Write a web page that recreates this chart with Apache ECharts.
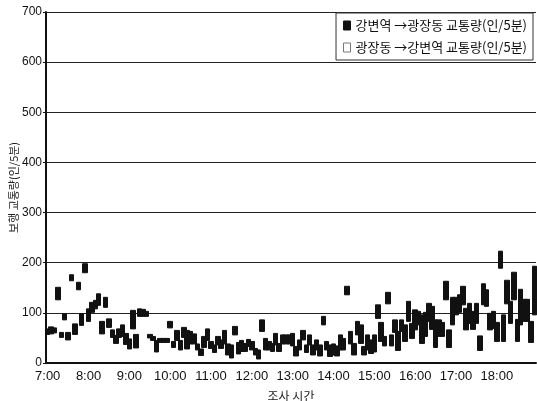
<!DOCTYPE html>
<html><head><meta charset="utf-8">
<script src="https://cdn.jsdelivr.net/npm/echarts@6/dist/echarts.min.js"></script>
<style>html,body{margin:0;padding:0;background:#fff}#c{width:537px;height:401px}</style>
</head><body><div id="c"></div>
<script>
// 5-minute slots from 7:00 to 18:55
const times = [];
for (let h = 7; h <= 18; h++) for (let m = 0; m < 60; m += 5) times.push(h + ':' + (m < 10 ? '0' : '') + m);

// 강변역→광장동 (upper edge of each bar)
const gangToGwang = [68,72,70,151,61,98,61,176,78,161,98,198,108,121,125,138,83,131,88,66,
55,68,76,59,48,105,57,108,107,103,57,53,45,49,49,49,83,43,65,45,
71,65,63,58,38,28,53,68,43,36,53,46,65,38,36,73,41,45,39,47,
43,29,26,86,49,43,39,59,39,56,56,56,59,33,46,65,36,56,36,46,
36,93,43,36,38,34,56,49,153,63,39,83,76,33,56,46,56,116,81,53,
141,56,86,63,86,76,123,79,106,103,96,101,119,113,86,86,81,163,66,131,
131,136,153,109,119,103,119,54,158,146,99,103,81,223,96,165,123,181,87,147,
127,127,83,193];
// 광장동→강변역 (lower edge of each bar)
const gwangToGang = [57,58,60,126,51,86,46,164,57,146,75,180,83,101,108,115,58,111,71,51,
39,51,53,37,28,68,30,93,93,93,50,45,22,41,41,41,70,31,45,26,
51,28,38,38,26,15,31,45,29,21,36,29,38,16,10,56,18,23,23,33,
26,16,8,63,26,26,23,36,23,38,38,38,34,14,26,46,21,36,16,26,
14,76,26,13,16,14,26,26,136,38,16,56,39,16,26,19,22,89,43,34,
118,34,61,25,63,43,83,49,66,76,39,53,83,67,31,53,53,126,31,76,
96,101,116,66,79,67,79,25,116,113,66,69,43,189,43,118,79,126,43,76,
83,83,41,96];

const yTicks = [0,100,200,300,400,500,600,700];
const hourLabels = ['7:00','8:00','9:00','10:00','11:00','12:00','13:00','14:00','15:00','16:00','17:00','18:00'];

const nameA = '강변역 →광장동 교통량(인/5분)';
const nameB = '광장동 →강변역 교통량(인/5분)';

const candle = times.map((t, i) => {
  const a = gangToGwang[i], b = gwangToGang[i];
  return [b, a, Math.min(a, b), Math.max(a, b)];
});

const chart = echarts.init(document.getElementById('c'), null, {renderer: 'canvas'});
const font = 'Liberation Sans, Arial, sans-serif';
const kfont = 'Noto Sans CJK KR, sans-serif';
chart.setOption({
  animation: false,
  backgroundColor: '#fff',
  textStyle: {fontFamily: font},
  grid: {left: 46, right: 1, top: 12, bottom: 38, containLabel: false, outerBoundsMode: 'none'},
  legend: {
    orient: 'vertical', right: 4, top: 13,
    itemWidth: 7, itemHeight: 9, itemGap: 9,
    padding: [6, 6, 6, 7],
    borderColor: '#333', borderWidth: 1, backgroundColor: '#fff',
    textStyle: {fontSize: 13, color: '#111', fontFamily: kfont},
    data: [
      {name: nameA, icon: 'rect', itemStyle: {color: '#111', borderColor: '#111', borderWidth: 1}},
      {name: nameB, icon: 'rect', itemStyle: {color: '#fff', borderColor: '#777', borderWidth: 1}}
    ]
  },
  xAxis: {
    type: 'category', data: times, boundaryGap: true,
    name: '조사 시간', nameLocation: 'middle', nameGap: 27, nameMoveOverlap: false,
    nameTextStyle: {fontSize: 12, color: '#222', fontFamily: kfont},
    axisLine: {lineStyle: {color: '#111', width: 2}},
    axisTick: {show: false},
    axisLabel: {
      interval: (idx, val) => hourLabels.indexOf(val) >= 0,
      formatter: v => hourLabels.indexOf(v) >= 0 ? v : '',
      fontSize: 13, color: '#111', margin: 7, fontFamily: font
    },
    splitLine: {show: false}
  },
  yAxis: {
    type: 'value', min: yTicks[0], max: yTicks[yTicks.length - 1], interval: 100,
    name: '보행 교통량(인/5분)', nameLocation: 'middle', nameGap: 27, nameRotate: 90, nameMoveOverlap: false,
    nameTextStyle: {fontSize: 11, color: '#222', fontFamily: kfont},
    axisLine: {show: true, lineStyle: {color: '#111', width: 2}},
    axisTick: {show: true, length: 3, lineStyle: {color: '#111'}},
    axisLabel: {fontSize: 12, color: '#111', margin: 4, fontFamily: font},
    splitLine: {lineStyle: {color: '#222', width: 1}}
  },
  series: [
    {
      type: 'candlestick', data: candle, barWidth: 5, barMinWidth: 5, barMaxWidth: 6,
      itemStyle: {color: '#111', color0: '#111', borderColor: '#111', borderColor0: '#111', borderWidth: 1}
    },
    {name: nameA, type: 'line', data: gangToGwang, symbol: 'none', lineStyle: {opacity: 0}, itemStyle: {color: '#111'}},
    {name: nameB, type: 'line', data: gwangToGang, symbol: 'none', lineStyle: {opacity: 0}, itemStyle: {color: '#fff'}}
  ]
});
</script></body></html>
